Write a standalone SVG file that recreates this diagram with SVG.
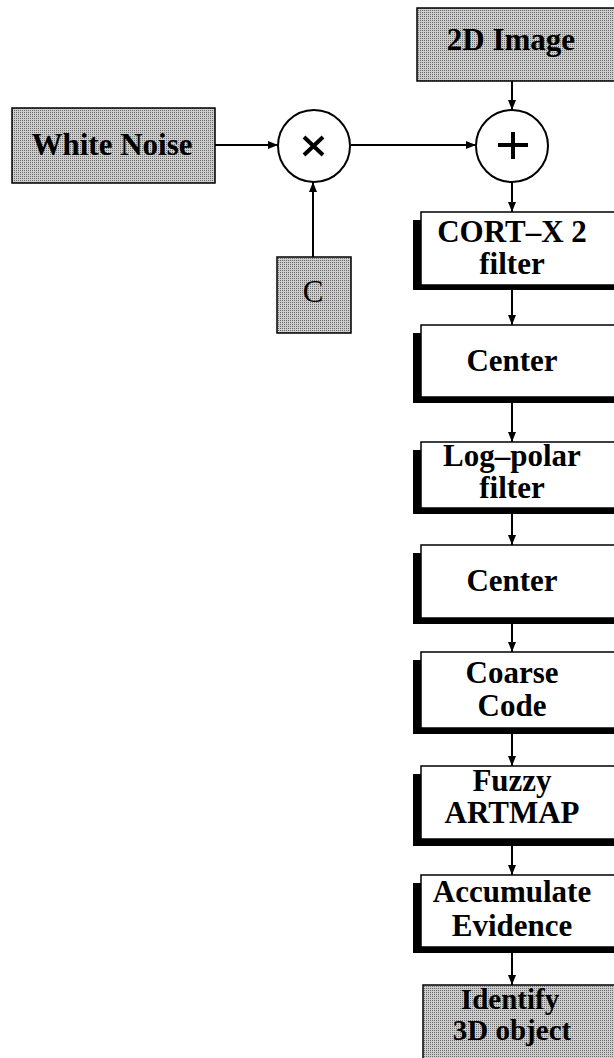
<svg xmlns="http://www.w3.org/2000/svg" width="614" height="1058" viewBox="0 0 614 1058">
<defs>
<pattern id="dither" width="2" height="2" patternUnits="userSpaceOnUse">
<rect width="2" height="2" fill="#cdcdcd"/>
<rect width="1" height="1" fill="#6a6a6a"/>
</pattern>
<marker id="ah" viewBox="0 0 10 8" refX="10" refY="4" markerWidth="10" markerHeight="8" markerUnits="userSpaceOnUse" orient="auto">
<path d="M0,0 L10,4 L0,8 z" fill="#000"/>
</marker>
<style>
.lbl{font-family:"Liberation Serif","Times New Roman",serif;font-weight:bold;font-size:31px;fill:#000;text-anchor:middle}
.reg{font-weight:normal}
.sm{font-size:29px}
.gray{fill:url(#dither);stroke:#000;stroke-width:1.5}
.wbox{fill:#fff;stroke:#000;stroke-width:1.5}
.shadow{fill:#000}
.circ{fill:#fff;stroke:#000;stroke-width:2}
.sym{stroke:#000;stroke-width:4;fill:none}
.conn{stroke:#000;stroke-width:2;fill:none;marker-end:url(#ah)}
</style>
</defs>
<rect width="614" height="1058" fill="#fff"/>

<g id="connectors">
<line class="conn" x1="215" y1="145" x2="278" y2="145"/>
<line class="conn" x1="351" y1="145" x2="476" y2="145"/>
<line class="conn" x1="313" y1="257" x2="313" y2="182"/>
<line class="conn" x1="512" y1="81" x2="512" y2="110"/>
<line class="conn" x1="512" y1="182" x2="512" y2="212"/>
<line class="conn" x1="512" y1="290" x2="512" y2="325"/>
<line class="conn" x1="512" y1="403" x2="512" y2="442"/>
<line class="conn" x1="512" y1="514" x2="512" y2="545"/>
<line class="conn" x1="512" y1="624" x2="512" y2="652"/>
<line class="conn" x1="512" y1="734" x2="512" y2="766"/>
<line class="conn" x1="512" y1="846" x2="512" y2="875"/>
<line class="conn" x1="512" y1="953" x2="512" y2="985"/>
</g>

<g id="image2d">
<rect class="gray" x="417" y="8" width="210" height="73"/>
<text class="lbl" x="511" y="50">2D Image</text>
</g>

<g id="whitenoise">
<rect class="gray" x="12" y="108" width="203" height="75"/>
<text class="lbl" x="112" y="155">White Noise</text>
</g>

<g id="multiply">
<circle class="circ" cx="314" cy="146" r="36"/>
<path class="sym" d="M304,137 L323,155 M323,137 L304,155"/>
</g>

<g id="add">
<circle class="circ" cx="512" cy="146" r="36"/>
<path class="sym" d="M498,145 L528,145 M513,132 L513,159"/>
</g>

<g id="constc">
<rect class="gray" x="277" y="257" width="74" height="76"/>
<text class="lbl reg" x="313" y="302">C</text>
</g>

<g id="cortx">
<rect class="shadow" x="413" y="220" width="210" height="70"/>
<rect class="wbox" x="421" y="212" width="210" height="73"/>
<text class="lbl" x="512" y="242">CORT–X 2</text>
<text class="lbl" x="512" y="274">filter</text>
</g>

<g id="center1">
<rect class="shadow" x="413" y="333" width="210" height="70"/>
<rect class="wbox" x="421" y="325" width="210" height="72"/>
<text class="lbl" x="512" y="371">Center</text>
</g>

<g id="logpolar">
<rect class="shadow" x="413" y="450" width="210" height="64"/>
<rect class="wbox" x="421" y="442" width="210" height="66"/>
<text class="lbl" x="512" y="466">Log–polar</text>
<text class="lbl" x="512" y="498">filter</text>
</g>

<g id="center2">
<rect class="shadow" x="413" y="553" width="210" height="71"/>
<rect class="wbox" x="421" y="545" width="210" height="73"/>
<text class="lbl" x="512" y="591">Center</text>
</g>

<g id="coarse">
<rect class="shadow" x="413" y="660" width="210" height="74"/>
<rect class="wbox" x="421" y="652" width="210" height="76"/>
<text class="lbl" x="512" y="683">Coarse</text>
<text class="lbl" x="512" y="716">Code</text>
</g>

<g id="fuzzy">
<rect class="shadow" x="413" y="774" width="210" height="72"/>
<rect class="wbox" x="421" y="766" width="210" height="73"/>
<text class="lbl" x="512" y="791">Fuzzy</text>
<text class="lbl" x="512" y="823">ARTMAP</text>
</g>

<g id="accumulate">
<rect class="shadow" x="413" y="883" width="210" height="70"/>
<rect class="wbox" x="421" y="875" width="210" height="72"/>
<text class="lbl" x="512" y="902">Accumulate</text>
<text class="lbl" x="512" y="936">Evidence</text>
</g>

<g id="identify">
<rect class="gray" x="423" y="985" width="210" height="80"/>
<text class="lbl sm" x="510" y="1009">Identify</text>
<text class="lbl sm" x="512" y="1040">3D object</text>
</g>
</svg>
